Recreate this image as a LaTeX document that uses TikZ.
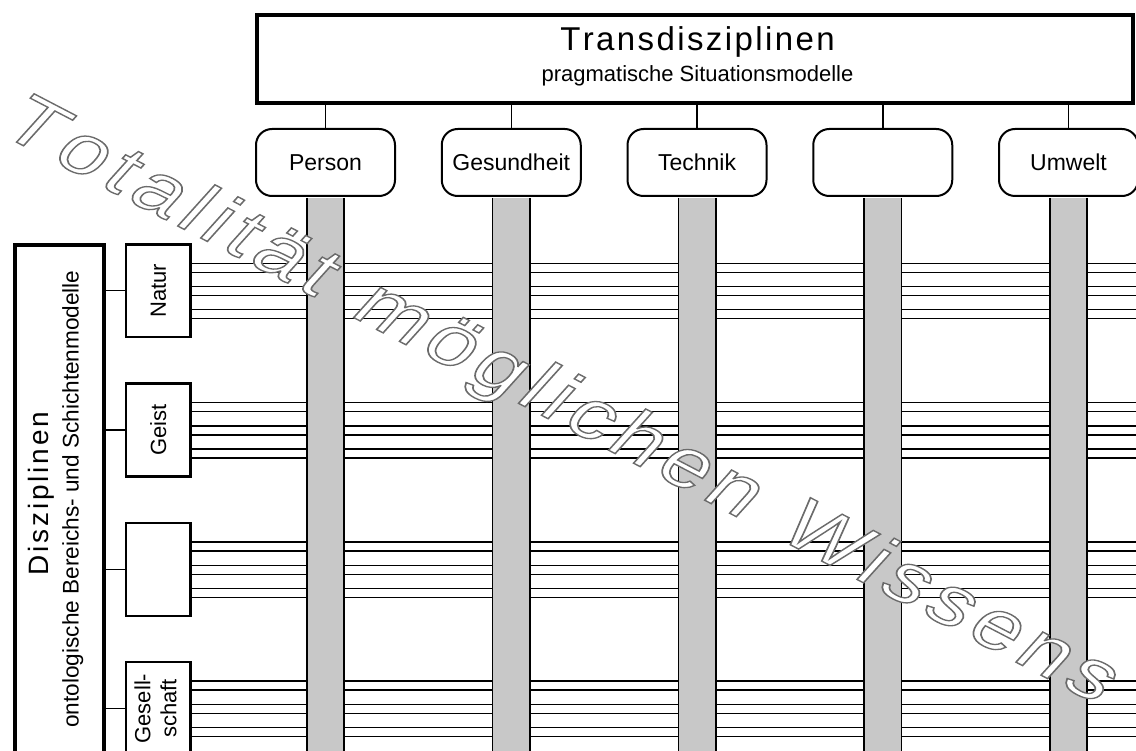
\documentclass[tikz,border=0pt]{standalone}
\usepackage{fontspec}
\usepackage{graphicx}
\setmainfont{Liberation Sans}
\definecolor{bargray}{RGB}{200,200,200}
\newlength\lsamt
\def\lsword#1{\lsfirst#1\relax}
\def\lsfirst#1{#1\lsrest}
\def\lsrest#1{\ifx#1\relax\else\kern\lsamt#1\expandafter\lsrest\fi}
\newcommand\fs[1]{\fontsize{#1}{#1}\selectfont}
\begin{document}
\begin{tikzpicture}[x=1pt,y=-1pt,
  thickbox/.style={draw, line width=3.6pt, inner sep=0pt},
  rbox/.style={draw, line width=2pt, rounded corners=16pt, minimum width=139pt, minimum height=67pt, inner sep=0pt, fill=white, font=\fs{23}},
  sbox/.style={draw, line width=2.4pt, minimum width=64.5pt, minimum height=92.7pt, inner sep=0pt, fill=white, font=\fs{22}},
  conn/.style={line width=1.5pt},
  hline/.style={line width=1.3pt},
  bar/.style={fill=bargray, minimum width=37pt, minimum height=570pt, inner sep=0pt, anchor=north},
  barside/.style={line width=1.6pt}
]
\useasboundingbox (0,0) rectangle (1136,751);
\clip (0,0) rectangle (1136,751);

% top box
\node[thickbox, minimum width=876pt, minimum height=88pt] (tb) at (695,59) {};
\node[anchor=base, inner sep=0pt, font=\fs{33}] (tbt) at (697.5,50.7) {\setlength\lsamt{2.4pt}\lsword{Transdisziplinen}};
\node[anchor=base, inner sep=0pt, font=\fs{22}] (tbs) at (697.5,81.7) {pragmatische Situationsmodelle};

% rounded boxes
\node[rbox] (p1) at (325.5,162.5) {Person};
\node[rbox] (p2) at (511.25,162.5) {Gesundheit};
\node[rbox] (p3) at (697,162.5) {Technik};
\node[rbox] (p4) at (882.75,162.5) {};
\node[rbox] (p5) at (1068.5,162.5) {Umwelt};
\foreach \p in {p1,p2,p3,p4,p5}
  \draw[conn] (\p.north) -- (\p.north |- tb.south);

% left big box
\node[thickbox, minimum width=89pt, minimum height=525pt] (L) at (59.5,507.5) {};
\node[rotate=90, anchor=base, inner sep=0pt, font=\fs{28}] (Lt) at (48.3,493.5) {\setlength\lsamt{2.8pt}\lsword{Disziplinen}};
\node[rotate=90, anchor=base, inner sep=0pt, font=\fs{22.6}] (Ls) at (78.5,499) {ontologische Bereichs- und Schichtenmodelle};

% small boxes
\node[sbox] (s1) at (158.3,290.7) {\rotatebox{90}{Natur}};
\node[sbox] (s2) at (158.3,430) {\rotatebox{90}{Geist}};
\node[sbox] (s3) at (158.3,569.4) {};
\node[sbox] (s4) at (158.3,708.6) {\rotatebox{90}{\fontsize{22}{26}\selectfont\begin{tabular}{@{}c@{}}Gesell-\\schaft\end{tabular}}};
\foreach \s in {s1,s2,s3,s4}
  \draw[conn] (\s.west) -- (L.east |- \s.west);

% horizontal lines
\foreach \s in {s1,s2,s3,s4}
  \foreach \o in {-27.5,-18.5,-4,5,19,28}
    \draw[hline] (\s.east) ++(0,\o) -- ++(960,0);

% grey bars
\foreach \p/\b in {p1/b1,p2/b2,p3/b3,p4/b4,p5/b5}{
  \node[bar, yshift=-1pt] (\b) at (\p.south) {};
  \draw[barside] (\b.north west) -- (\b.south west) (\b.north east) -- (\b.south east);
}

% watermark
\node[anchor=base west, inner sep=0pt, xscale=1.316, rotate=-34.4, transform shape, font=\fs{69}] (wm) at (-3,132)
  {\setlength\lsamt{5.9pt}\special{pdf:literal direct 2 Tr 1.3 w 0.42 G 1 g}\lsword{Totalität~möglichen~Wissens}\special{pdf:literal direct 0 Tr 0 G 0 g}};
\end{tikzpicture}
\end{document}
